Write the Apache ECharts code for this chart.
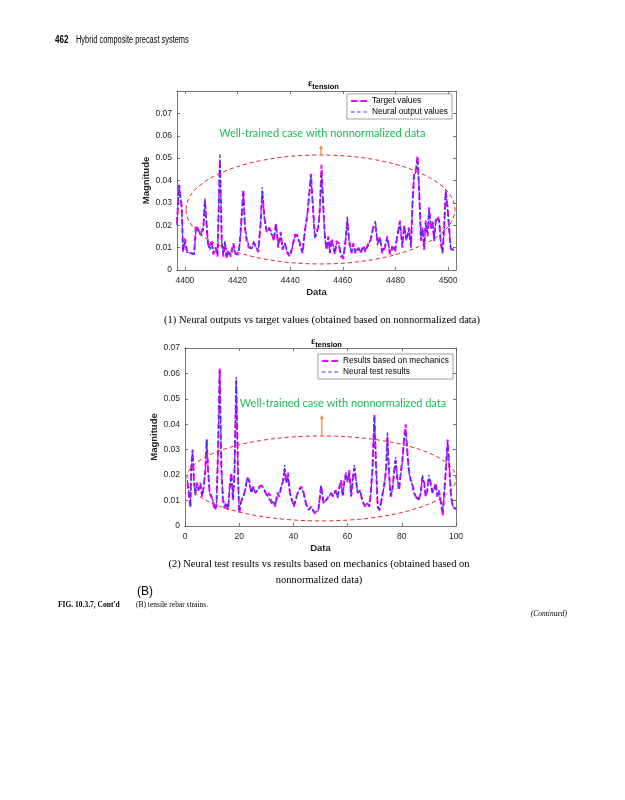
<!DOCTYPE html>
<html><head><meta charset="utf-8">
<script src="https://cdn.jsdelivr.net/npm/echarts@6/dist/echarts.min.js"></script>
<style>html,body{margin:0;padding:0;background:#fff}#main{width:625px;height:800px}</style>
</head><body><div id="main"></div>
<script>
// ---------- Chart (1) data ----------
const x1 = [
4397.0,4397.8,4398.8,4399.3,4400.0,4400.7,4401.3,4402.6,4403.5,4404.2,
4405.1,4406.0,4407.0,4407.6,4408.3,4408.9,4409.5,4410.2,4410.8,4411.7,
4412.4,4413.3,4414.0,4414.6,4415.2,4415.9,4416.5,4417.4,4418.4,4419.3,
4420.3,4420.9,4421.6,4422.2,4422.8,4423.5,4424.3,4425.4,4426.2,4427.0,
4427.9,4428.8,4429.4,4430.2,4431.0,4431.9,4432.9,4433.8,4434.6,4435.5,
4436.4,4437.1,4438.0,4438.9,4439.9,4440.8,4441.8,4442.7,4443.7,4444.7,
4445.6,4446.5,4447.2,4447.9,4448.5,4449.4,4450.3,4450.7,4451.3,4451.9,
4452.6,4453.2,4453.8,4454.5,4455.1,4455.7,4456.4,4457.0,4457.6,4458.5,
4459.3,4460.2,4461.0,4461.7,4462.4,4463.3,4464.0,4464.8,4465.9,4466.7,
4467.8,4468.6,4469.7,4470.5,4471.5,4472.4,4473.2,4474.1,4475.0,4476.0,
4476.9,4477.9,4478.9,4479.8,4480.7,4481.7,4482.6,4483.3,4484.2,4485.1,
4485.9,4486.5,4487.1,4487.8,4488.4,4489.0,4489.7,4490.3,4490.9,4491.5,
4492.2,4492.8,4493.5,4494.1,4494.7,4495.3,4496.0,4496.6,4497.2,4497.9,
4498.5,4499.1,4499.8,4500.4,4501.0,4501.9,4503.0];
const target1 = [
0.021,0.038,0.028,0.008,0.014,0.009,0.0075,0.0075,0.007,0.020,
0.018,0.016,0.019,0.031,0.019,0.010,0.010,0.013,0.007,0.010,
0.006,0.049,0.013,0.006,0.012,0.005,0.009,0.006,0.012,0.007,
0.007,0.013,0.025,0.036,0.019,0.013,0.010,0.010,0.012,0.010,
0.008,0.021,0.035,0.024,0.017,0.019,0.017,0.013,0.021,0.010,
0.017,0.009,0.012,0.0075,0.006,0.010,0.016,0.015,0.012,0.0075,
0.018,0.024,0.033,0.043,0.031,0.015,0.018,0.019,0.028,0.047,
0.028,0.015,0.009,0.015,0.0075,0.014,0.010,0.007,0.013,0.012,
0.006,0.005,0.013,0.022,0.013,0.0075,0.012,0.0075,0.010,0.0075,
0.011,0.008,0.012,0.013,0.019,0.020,0.012,0.015,0.0075,0.010,
0.015,0.007,0.010,0.008,0.015,0.022,0.010,0.020,0.013,0.019,
0.010,0.031,0.043,0.045,0.051,0.036,0.013,0.019,0.009,0.022,
0.015,0.028,0.018,0.022,0.013,0.022,0.024,0.022,0.012,0.0075,
0.019,0.035,0.028,0.018,0.0095,0.009,0.009];
const neural1 = [
0.020,0.038,0.027,0.009,0.013,0.008,0.008,0.0075,0.0065,0.018,
0.018,0.015,0.018,0.032,0.020,0.011,0.009,0.012,0.008,0.010,
0.007,0.052,0.012,0.007,0.013,0.006,0.008,0.007,0.011,0.007,
0.008,0.012,0.024,0.035,0.020,0.014,0.011,0.009,0.013,0.010,
0.009,0.022,0.037,0.023,0.018,0.018,0.016,0.014,0.020,0.011,
0.016,0.010,0.012,0.008,0.007,0.010,0.015,0.016,0.011,0.008,
0.017,0.025,0.034,0.042,0.030,0.014,0.017,0.020,0.027,0.044,
0.027,0.014,0.010,0.014,0.008,0.013,0.011,0.008,0.012,0.011,
0.007,0.006,0.012,0.024,0.012,0.008,0.011,0.008,0.010,0.008,
0.010,0.009,0.011,0.014,0.018,0.022,0.011,0.014,0.008,0.011,
0.014,0.008,0.011,0.009,0.016,0.021,0.011,0.019,0.014,0.018,
0.011,0.030,0.042,0.044,0.050,0.035,0.014,0.018,0.010,0.021,
0.016,0.027,0.019,0.021,0.014,0.021,0.023,0.022,0.013,0.008,
0.018,0.036,0.027,0.019,0.010,0.009,0.0085];
const xTicks1 = [4400,4420,4440,4460,4480,4500];
const yTicks1 = [0,0.01,0.02,0.03,0.04,0.05,0.06,0.07];

// ---------- Chart (2) data ----------
const x2 = [
0.9,1.5,2.0,2.3,2.8,3.3,3.8,4.4,5.0,5.7,
6.3,6.9,7.5,8.0,8.5,9.1,9.7,10.3,10.9,11.6,
12.2,12.8,13.4,14.0,14.6,15.3,15.9,16.5,17.1,17.7,
18.3,18.9,19.6,20.0,20.8,21.6,22.4,23.0,23.7,24.5,
25.2,26.0,26.7,27.4,28.2,28.9,29.6,30.4,31.1,31.9,
32.6,33.3,34.1,34.8,35.5,36.3,36.8,37.4,38.0,38.7,
39.5,40.2,41.1,41.9,42.9,43.8,44.6,45.6,46.6,47.8,
49.2,49.8,50.2,51.1,51.9,52.9,53.9,54.7,55.6,56.3,
57.0,57.6,58.2,58.8,59.4,60.0,60.6,61.3,61.9,62.5,
63.1,63.7,64.6,65.4,66.4,67.3,68.0,68.6,69.2,69.9,
70.5,71.1,71.7,72.3,73.0,73.6,74.2,74.7,75.3,75.9,
76.5,77.1,77.7,78.4,79.0,79.6,80.2,80.8,81.4,82.0,
82.6,83.3,83.9,84.5,85.2,86.1,87.0,87.6,88.2,88.8,
89.4,90.0,90.7,91.3,91.9,92.5,93.1,93.7,94.3,95.1,
95.7,96.3,96.9,97.5,98.2,98.8,99.6,100];
const mechanics2 = [
0.017,0.0115,0.007,0.023,0.030,0.018,0.013,0.017,0.014,0.017,
0.0115,0.0155,0.022,0.034,0.022,0.013,0.0115,0.010,0.0063,0.0076,
0.030,0.062,0.023,0.010,0.007,0.009,0.0063,0.0155,0.021,0.010,
0.023,0.057,0.018,0.005,0.010,0.0115,0.0155,0.019,0.018,0.013,
0.0155,0.013,0.014,0.0155,0.016,0.015,0.0155,0.0115,0.013,0.009,
0.010,0.0076,0.013,0.0115,0.0155,0.018,0.022,0.017,0.021,0.013,
0.010,0.0076,0.0115,0.014,0.0155,0.013,0.009,0.0063,0.0076,0.005,
0.0063,0.0115,0.016,0.009,0.010,0.0115,0.013,0.0115,0.014,0.0115,
0.0155,0.018,0.0115,0.018,0.021,0.017,0.022,0.0115,0.018,0.023,
0.018,0.013,0.014,0.010,0.0076,0.009,0.0076,0.014,0.023,0.044,
0.023,0.0076,0.0063,0.009,0.013,0.017,0.022,0.035,0.021,0.0115,
0.014,0.021,0.026,0.018,0.014,0.021,0.026,0.034,0.040,0.030,
0.022,0.018,0.017,0.013,0.0115,0.010,0.013,0.019,0.018,0.0115,
0.014,0.019,0.017,0.013,0.014,0.017,0.0115,0.014,0.010,0.004,
0.014,0.023,0.034,0.023,0.0115,0.0076,0.007,0.0065];
const neuralTest2 = [
0.018,0.012,0.008,0.022,0.030,0.017,0.012,0.016,0.014,0.016,
0.012,0.015,0.021,0.034,0.023,0.013,0.012,0.010,0.007,0.008,
0.029,0.0615,0.024,0.011,0.008,0.009,0.007,0.015,0.020,0.011,
0.022,0.0585,0.019,0.006,0.010,0.012,0.015,0.019,0.017,0.013,
0.015,0.013,0.014,0.015,0.016,0.015,0.015,0.012,0.012,0.009,
0.010,0.008,0.012,0.012,0.015,0.019,0.024,0.017,0.020,0.013,
0.010,0.008,0.011,0.014,0.015,0.013,0.009,0.0065,0.007,0.0055,
0.006,0.012,0.016,0.009,0.010,0.011,0.013,0.012,0.014,0.011,
0.015,0.017,0.012,0.017,0.020,0.018,0.021,0.012,0.019,0.024,
0.018,0.013,0.014,0.010,0.008,0.009,0.008,0.013,0.022,0.043,
0.024,0.008,0.006,0.009,0.013,0.016,0.023,0.037,0.020,0.012,
0.014,0.020,0.027,0.018,0.015,0.020,0.025,0.033,0.038,0.029,
0.021,0.018,0.016,0.013,0.012,0.010,0.013,0.020,0.017,0.012,
0.014,0.020,0.016,0.013,0.015,0.016,0.012,0.013,0.010,0.006,
0.013,0.022,0.033,0.024,0.012,0.008,0.007,0.0065];
const xTicks2 = [0,20,40,60,80,100];
const yTicks2 = [0,0.01,0.02,0.03,0.04,0.05,0.06,0.07];

// ---------- styling ----------
const AX = '#262626', BOX = '#555';
const SANS = 'Liberation Sans, Arial, sans-serif';
const SERIF = 'Liberation Serif, Times New Roman, serif';
const MAG = '#ff00ff', BLU = '#3333ee';
// legend icons: dashed line samples (tiny corner specks fix the icon box)
const ICON_MAG = 'path://M0,0h0.01v0.01h-0.01z M0,8h0.01v-0.01h-0.01z M0,3.1h6.5v1.8h-6.5z M9.5,3.1h6.5v1.8h-6.5z';
const ICON_BLU = 'path://M0,0h0.01v0.01h-0.01z M0,8h0.01v-0.01h-0.01z M0,3.4h3.5v1.2h-3.5z M6.2,3.4h3.5v1.2h-3.5z M12.4,3.4h3.6v1.2h-3.6z';

function fmtY(v){ return v === 0 ? '0' : (+v.toFixed(2)).toString(); }
function fmtX(v){ return String(Math.round(v)); }
function pairs(xs, ys){ return xs.map((x, i) => [x, ys[i]]); }

function axesFor(g, xmin, xmax, ymax, xt, yt){
  const xa = [
    {gridIndex:g, type:'value', min:xmin, max:xmax, position:'bottom',
     axisLine:{show:true,onZero:false,lineStyle:{color:BOX,width:0.8}},
     axisTick:{show:true,inside:true,length:3,customValues:xt,lineStyle:{color:BOX,width:0.8}},
     axisLabel:{show:true,customValues:xt,formatter:fmtX,color:AX,fontSize:8.5,fontFamily:SANS,margin:6},
     splitLine:{show:false},
     name:'Data', nameLocation:'middle', nameGap:17,
     nameTextStyle:{fontWeight:'bold',fontSize:9.5,color:AX,fontFamily:SANS}},
    {gridIndex:g, type:'value', min:xmin, max:xmax, position:'top',
     axisLine:{show:true,onZero:false,lineStyle:{color:BOX,width:0.8}},
     axisTick:{show:true,inside:true,length:3,customValues:xt,lineStyle:{color:BOX,width:0.8}},
     axisLabel:{show:false}, splitLine:{show:false}}
  ];
  const ya = [
    {gridIndex:g, type:'value', min:0, max:ymax, position:'left',
     axisLine:{show:true,onZero:false,lineStyle:{color:BOX,width:0.8}},
     axisTick:{show:true,inside:true,length:3,customValues:yt,lineStyle:{color:BOX,width:0.8}},
     axisLabel:{show:true,customValues:yt,formatter:fmtY,color:AX,fontSize:8.5,fontFamily:SANS,margin:5},
     splitLine:{show:false},
     name:'Magnitude', nameLocation:'middle', nameGap:22, nameRotate:90,
     nameTextStyle:{fontWeight:'bold',fontSize:9.5,color:AX,fontFamily:SANS}},
    {gridIndex:g, type:'value', min:0, max:ymax, position:'right',
     axisLine:{show:true,onZero:false,lineStyle:{color:BOX,width:0.8}},
     axisTick:{show:true,inside:true,length:3,customValues:yt,lineStyle:{color:BOX,width:0.8}},
     axisLabel:{show:false}, splitLine:{show:false}}
  ];
  return {xa, ya};
}
const a1 = axesFor(0, 4397, 4503, 0.08, xTicks1, yTicks1);
const a2 = axesFor(1, 0, 100, 0.07, xTicks2, yTicks2);
a2.ya[0].nameGap = 19;

function lineSeries(name, xi, yi, data, color, width, dash, z){
  return {name, type:'line', xAxisIndex:xi, yAxisIndex:yi, data, symbol:'none',
    lineStyle:{color, width, type:dash}, itemStyle:{color}, z, animation:false, silent:true};
}

const legendBase = {orient:'vertical', itemWidth:16, itemHeight:8, itemGap:3,
  borderColor:'#8c8c8c', borderWidth:0.8, backgroundColor:'#fff', padding:[3,4,3,4],
  textStyle:{fontSize:8.3,color:'#000',fontFamily:SANS,padding:[0,0,0,0]}, selectedMode:false};

const titleRich = {
  e:{fontSize:10,fontWeight:'bold',fontFamily:SERIF,color:'#000'},
  s:{fontSize:7.5,fontWeight:'bold',fontFamily:SANS,color:'#000',padding:[7,0,0,0]}
};

const option = {
  backgroundColor:'#fff',
  animation:false,
  grid:[
    {left:177, top:91, width:279, height:179, containLabel:false},
    {left:185, top:348, width:271, height:178, containLabel:false}
  ],
  xAxis:[...a1.xa, ...a2.xa],
  yAxis:[...a1.ya, ...a2.ya],
  title:[
    {text:'{e|ε}{s|tension}', left:303, top:71, textStyle:{rich:titleRich}},
    {text:'{e|ε}{s|tension}', left:306, top:329, textStyle:{rich:titleRich}}
  ],
  legend:[
    Object.assign({}, legendBase, {right:173, top:94, data:[
      {name:'Target values', icon:ICON_MAG}, {name:'Neural output values', icon:ICON_BLU}]}),
    Object.assign({}, legendBase, {right:172, top:354, data:[
      {name:'Results based on mechanics', icon:ICON_MAG}, {name:'Neural test results', icon:ICON_BLU}]})
  ],
  series:[
    lineSeries('Target values', 0, 0, pairs(x1, target1), MAG, 2, [6,3], 2),
    lineSeries('Neural output values', 0, 0, pairs(x1, neural1), BLU, 1.3, [3,2], 3),
    lineSeries('Results based on mechanics', 2, 2, pairs(x2, mechanics2), MAG, 2, [6,3], 2),
    lineSeries('Neural test results', 2, 2, pairs(x2, neuralTest2), BLU, 1.3, [3,2], 3)
  ]
};

const chart = echarts.init(document.getElementById('main'), null, {renderer:'canvas', width:625, height:800});
chart.setOption(option);

// annotations placed in data coordinates
function P(g, x, y){ return chart.convertToPixel({xAxisIndex:g*2, yAxisIndex:g*2}, [x, y]); }
function ellipseFrom(g, x0, x1_, y0, y1_){
  const p0 = P(g, x0, y0), p1 = P(g, x1_, y1_);
  return {type:'ellipse', z:10, silent:true,
    shape:{cx:(p0[0]+p1[0])/2, cy:(p0[1]+p1[1])/2, rx:Math.abs(p1[0]-p0[0])/2, ry:Math.abs(p1[1]-p0[1])/2},
    style:{fill:'none', stroke:'#e8262b', lineWidth:1, lineDash:[4,3]}};
}
function arrowFrom(g, x, yFrom, yTo){
  const a = P(g, x, yFrom), b = P(g, x, yTo);
  return [
    {type:'line', z:10, silent:true, shape:{x1:a[0],y1:a[1],x2:b[0],y2:b[1]+3}, style:{stroke:'#f28a2e', lineWidth:1.2}},
    {type:'polygon', z:10, silent:true, shape:{points:[[b[0],b[1]],[b[0]-2,b[1]+4],[b[0]+2,b[1]+4]]}, style:{fill:'#f28a2e'}}
  ];
}
function greenText(g, x, y){
  const p = P(g, x, y);
  return {type:'text', z:11, silent:true, x:p[0], y:p[1],
    style:{text:'Well-trained case with nonnormalized data', fill:'#1db954', font:'11px Lato, sans-serif', align:'center', verticalAlign:'middle'}};
}
function txt(x, y, s, font, opts, sx){
  return {type:'text', silent:true, x, y, scaleX: sx || 1,
    style:Object.assign({text:s, font, fill:'#000', verticalAlign:'middle'}, opts||{})};
}

const graphics = [
  ellipseFrom(0, 4400.4, 4502.6, 0.0514, 0.0027),
  ...arrowFrom(0, 4451.7, 0.0514, 0.0559),
  greenText(0, 4452.2, 0.0612),
  ellipseFrom(1, 0.7, 100, 0.0354, 0.002),
  ...arrowFrom(1, 50.5, 0.0354, 0.0437),
  greenText(1, 58.3, 0.048),
  txt(55, 40, '462', 'bold 10px ' + SANS, null, 0.8),
  txt(76, 40, 'Hybrid composite precast systems', '10px ' + SANS, null, 0.74),
  txt(322, 320, '(1) Neural outputs vs target values (obtained based on nonnormalized data)', '10.5px ' + SERIF, {align:'center'}),
  txt(319, 564, '(2) Neural test results vs results based on mechanics (obtained based on', '10.5px ' + SERIF, {align:'center'}),
  txt(319, 580, 'nonnormalized data)', '10.5px ' + SERIF, {align:'center'}),
  txt(137, 592, '(B)', '12px ' + SANS),
  txt(58, 605, "FIG. 10.3.7, Cont'd", 'bold 7.5px ' + SERIF),
  txt(136, 605, '(B) tensile rebar strains.', '7.5px ' + SERIF),
  txt(567, 614, '(Continued)', 'italic 7.5px ' + SERIF, {align:'right'})
];
chart.setOption({graphic:graphics});
</script></body></html>
